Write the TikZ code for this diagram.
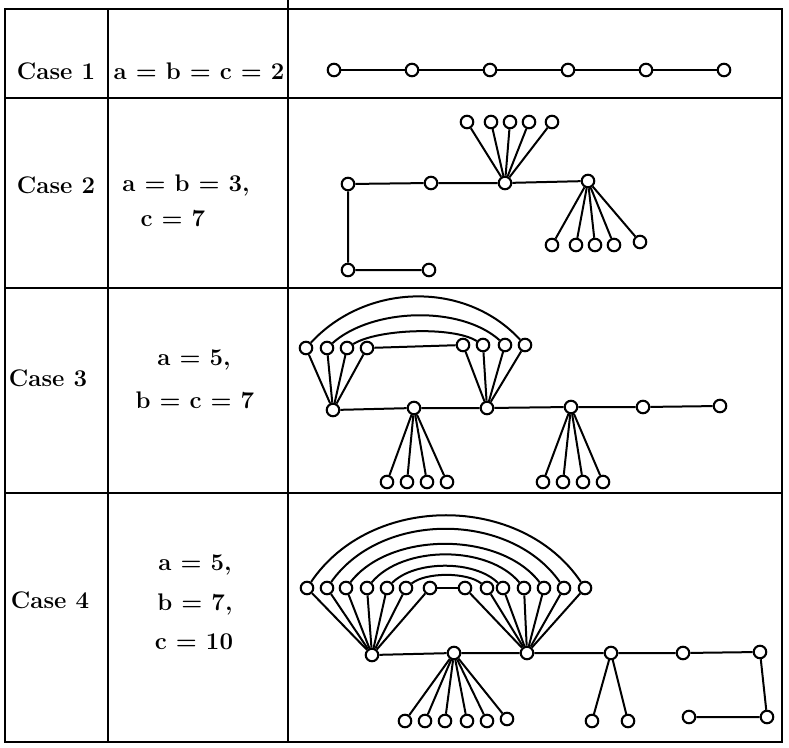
\documentclass[tikz,border=0pt]{standalone}
\usepackage{fontspec}
\tikzset{
  vtx/.style={circle, draw, line width=2.1pt, fill=white, inner sep=0pt, minimum size=12.5pt},
  lbl/.style={font=\fontsize{24}{29}\selectfont\bfseries, inner sep=0pt, text height=17pt, text depth=0pt}
}
\begin{document}
\begin{tikzpicture}[x=1pt, y=-1pt, line width=2pt]
\useasboundingbox (0,0) rectangle (789,747);

	% table
	\draw (5,9) rectangle (782,742);
	\draw (108,9) -- (108,742);
	\draw (288,0) -- (288,742);
	\foreach \y in {98,288,493}
		\draw (5,\y) -- (782,\y);

	% labels
	\node [lbl] (case1) at (56,71) {Case 1};
	\node [lbl] (val1) at (199,71) {a = b = c = 2};
	\node [lbl] (case2) at (56,185) {Case 2};
	\node [lbl] (val2a) at (186,183) {a = b = 3,};
	\node [lbl] (val2b) at (173,218) {c = 7};
	\node [lbl] (case3) at (48,378) {Case 3};
	\node [lbl] (val3a) at (194,357) {a = 5,};
	\node [lbl] (val3b) at (195,400) {b = c = 7};
	\node [lbl] (case4) at (50,600) {Case 4};
	\node [lbl] (val4a) at (195,562) {a = 5,};
	\node [lbl] (val4b) at (195,602) {b = 7,};
	\node [lbl] (val4c) at (194,641) {c = 10};

	% case 1
	\foreach \i/\x in {1/334, 2/412, 3/490, 4/568, 5/646, 6/724}
		\node [vtx] (p\i) at (\x,70) {};
	\foreach \a/\b in {1/2, 2/3, 3/4, 4/5, 5/6}
		\draw (p\a) -- (p\b);

	% case 2
	\node [vtx] (q1) at (348,184) {};
	\node [vtx] (q2) at (431,183) {};
	\node [vtx] (q3) at (505,183) {};
	\node [vtx] (q4) at (588,181) {};
	\node [vtx] (q5) at (348,270) {};
	\node [vtx] (q6) at (429,270) {};
	\foreach \i/\x in {1/467, 2/491, 3/510, 4/529, 5/552}
		\node [vtx] (t\i) at (\x,122) {};
	\foreach \i/\x/\y in {1/552/245, 2/576/245, 3/595/245, 4/614/245, 5/640/242}
		\node [vtx] (u\i) at (\x,\y) {};
	\draw (q6) -- (q5) -- (q1) -- (q2) -- (q3) -- (q4);
	\foreach \i in {1,...,5} {
		\draw (q3) -- (t\i);
		\draw (q4) -- (u\i);
	}

	% case 3
	\foreach \i/\x in {1/306, 2/327, 3/347, 4/367}
		\node [vtx] (a\i) at (\x,348) {};
	\foreach \i/\x in {1/463, 2/483, 3/505, 4/525}
		\node [vtx] (b\i) at (\x,345) {};
	\foreach \i/\x/\y in {1/333/410, 2/414/408, 3/487/408, 4/571/407, 5/643/407, 6/720/406}
		\node [vtx] (m\i) at (\x,\y) {};
	\foreach \i/\x in {1/387, 2/407, 3/427, 4/447}
		\node [vtx] (f\i) at (\x,482) {};
	\foreach \i/\x in {1/543, 2/563, 3/583, 4/603}
		\node [vtx] (g\i) at (\x,482) {};
	\draw (m1) -- (m2) -- (m3) -- (m4) -- (m5) -- (m6);
	\foreach \i in {1,...,4} {
		\draw (m1) -- (a\i);
		\draw (m3) -- (b\i);
		\draw (m2) -- (f\i);
		\draw (m4) -- (g\i);
	}
	\draw (a4) -- (b1);
	\foreach \l/\r/\dx/\dy in {3/2/30/19, 2/3/45/40, 1/4/60/65}
		\draw (a\l) .. controls +(\dx,-\dy) and +(-\dx,-\dy) .. (b\r);

	% case 4
	\foreach \i/\x in {1/307, 2/327, 3/346, 4/367, 5/387, 6/406, 7/430,
	                   8/465, 9/487, 10/503, 11/524, 12/544, 13/564, 14/585}
		\node [vtx] (n\i) at (\x,588) {};
	\foreach \i/\x/\y in {1/372/655, 2/454/653, 3/527/653, 4/611/653, 5/683/653, 6/760/652}
		\node [vtx] (h\i) at (\x,\y) {};
	\foreach \i/\x/\y in {1/405/721, 2/425/721, 3/445/721, 4/467/721, 5/487/721, 6/507/719}
		\node [vtx] (k\i) at (\x,\y) {};
	\node [vtx] (d1) at (592,721) {};
	\node [vtx] (d2) at (628,721) {};
	\node [vtx] (e1) at (767,717) {};
	\node [vtx] (e2) at (689,717) {};
	\draw (h1) -- (h2) -- (h3) -- (h4) -- (h5) -- (h6) -- (e1) -- (e2);
	\foreach \i in {1,...,7}
		\draw (h1) -- (n\i);
	\foreach \i in {8,...,14}
		\draw (h3) -- (n\i);
	\foreach \i in {1,...,6}
		\draw (h2) -- (k\i);
	\draw (h4) -- (d1);
	\draw (h4) -- (d2);
	\draw (n7) -- (n8);
	\foreach \l/\r/\dx/\dy in {6/9/20/16, 5/10/28/28, 4/11/36/43, 3/12/44/57, 2/13/54/77, 1/14/64/95}
		\draw (n\l) .. controls +(\dx,-\dy) and +(-\dx,-\dy) .. (n\r);

\end{tikzpicture}
\end{document}
